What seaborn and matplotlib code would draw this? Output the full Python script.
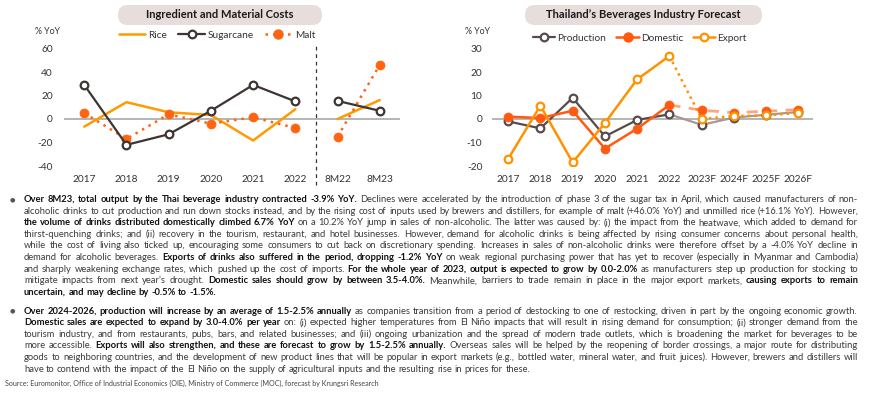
import numpy as np
import pandas as pd
import matplotlib
matplotlib.use("Agg")
import matplotlib.pyplot as plt
import seaborn as sns
from matplotlib.lines import Line2D
from matplotlib.patches import FancyBboxPatch
from matplotlib.font_manager import FontProperties
import matplotlib.transforms as mtransforms

# ---------------- data ----------------
cost_cats = ["2017", "2018", "2019", "2020", "2021", "2022", "8M22", "8M23"]
rice = [-6.5, 14.3, 5.7, 3.4, -18.3, 8.3, 0.0, 16.1]
sugarcane = [29.0, -22.0, -13.0, 7.0, 29.0, 15.0, 15.4, 7.0]
malt = [5.0, -17.0, 4.0, -4.0, 1.5, -7.7, -15.0, 46.0]

fc_cats = ["2017", "2018", "2019", "2020", "2021", "2022", "2023F", "2024F", "2025F", "2026F"]
production = [-1.0, -4.0, 9.0, -7.4, -0.4, 2.0, -2.5, 0.6, 1.8, 3.0]
domestic = [1.0, 0.4, 3.5, -12.6, -4.1, 6.0, 3.7, 2.7, 3.3, 4.0]
export = [-17.0, 5.7, -18.5, -1.7, 16.9, 26.8, 0.0, 1.3, 1.5, 2.6]

cost_title = "Ingredient and Material Costs"
fc_title = "Thailand\u2019s Beverages Industry Forecast"
y_label = "% YoY"

para1 = [
    [("Over 8M23, total output by the Thai beverage industry contracted -3.9% YoY.", True),
     (" Declines were accelerated by the introduction of phase 3 of the sugar tax in April, which caused manufacturers of non-", False)],
    [("alcoholic drinks to cut production and run down stocks instead, and by the rising cost of inputs used by brewers and distillers, for example of malt (+46.0% YoY) and unmilled rice (+16.1% YoY). However,", False)],
    [("the volume of drinks distributed domestically climbed 6.7% YoY", True),
     (" on a 10.2% YoY jump in sales of non-alcoholic. The latter was caused by: (i) the impact from the heatwave, which added to demand for", False)],
    [("thirst-quenching drinks; and (ii) recovery in the tourism, restaurant, and hotel businesses. However, demand for alcoholic drinks is being affected by rising consumer concerns about personal health,", False)],
    [("while the cost of living also ticked up, encouraging some consumers to cut back on discretionary spending. Increases in sales of non-alcoholic drinks were therefore offset by a -4.0% YoY decline in", False)],
    [("demand for alcoholic beverages.", False),
     (" Exports of drinks also suffered in the period, dropping -1.2% YoY", True),
     (" on weak regional purchasing power that has yet to recover (especially in Myanmar and Cambodia)", False)],
    [("and sharply weakening exchange rates, which pushed up the cost of imports.", False),
     (" For the whole year of 2023, output is expected to grow by 0.0-2.0%", True),
     (" as manufacturers step up production for stocking to", False)],
    [("mitigate impacts from next year\u2019s drought.", False),
     (" Domestic sales should grow by between 3.5-4.0%.", True),
     (" Meanwhile, barriers to trade remain in place in the major export markets,", False),
     (" causing exports to remain", True)],
    [("uncertain, and may decline by -0.5% to -1.5%.", True)],
]
para2 = [
    [("Over 2024-2026, production will increase by an average of 1.5-2.5% annually", True),
     (" as companies transition from a period of destocking to one of restocking, driven in part by the ongoing economic growth.", False)],
    [("Domestic sales are expected to expand by 3.0-4.0% per year", True),
     (" on: (i) expected higher temperatures from El Ni\u00f1o impacts that will result in rising demand for consumption; (ii) stronger demand from the", False)],
    [("tourism industry, and from restaurants, pubs, bars, and related businesses; and (iii) ongoing urbanization and the spread of modern trade outlets, which is broadening the market for beverages to be", False)],
    [("more accessible.", False),
     (" Exports will also strengthen, and these are forecast to grow by 1.5-2.5% annually.", True),
     (" Overseas sales will be helped by the reopening of border crossings, a major route for distributing", False)],
    [("goods to neighboring countries, and the development of new product lines that will be popular in export markets (e.g., bottled water, mineral water, and fruit juices). However, brewers and distillers will", False)],
    [("have to contend with the impact of the El Ni\u00f1o on the supply of agricultural inputs and the resulting rise in prices for these.", False)],
]
source_text = "Source: Euromonitor, Office of Industrial Economics (OIE), Ministry of Commerce (MOC), forecast by Krungsri Research"

# ---------------- style ----------------
sns.set_theme(style="white")
FAM = ["Lato", "DejaVu Sans"]
plt.rcParams["font.family"] = FAM
plt.rcParams["axes.unicode_minus"] = False

W, H = 870, 408
fig = plt.figure(figsize=(W / 100, H / 100), dpi=100)
fig.patch.set_facecolor("white")


def fx(px):
    return px / W


def fy(py):
    return 1 - py / H


ax1 = fig.add_axes([fx(64), fy(166), fx(400) - fx(64), fy(48.5) - fy(166)])
ax2 = fig.add_axes([fx(492), fy(166), fx(813) - fx(492), fy(48.5) - fy(166)])

C_RICE = "#FF9A00"
C_SUGAR = "#3F3434"
C_MALT = "#FF6410"
C_PROD = "#5A4A4A"
C_PROD_F = "#A89896"
C_DOM = "#FF5A0F"
C_DOM_F = "#FFA57E"
C_EXP = "#FF9200"
C_ZERO = "#A8A8A8"


def seg(ax, xs, ys, **kw):
    df = pd.DataFrame({"x": xs, "y": ys})
    sns.lineplot(data=df, x="x", y="y", ax=ax, errorbar=None, legend=False, **kw)


# ---------------- left chart ----------------
pos1 = np.arange(len(cost_cats))
ax1.axhline(0, color=C_ZERO, lw=1.2, zorder=1)
hist = slice(0, 6)
rec = slice(6, 8)
for s in (hist, rec):
    seg(ax1, pos1[s], rice[s], color=C_RICE, lw=1.8, zorder=3)
    seg(ax1, pos1[s], malt[s], color=C_MALT, lw=1.8, linestyle=(0, (1, 2)),
        marker="o", markersize=6.5, markerfacecolor=C_MALT, markeredgecolor=C_MALT,
        markeredgewidth=0.5, zorder=4)
    seg(ax1, pos1[s], sugarcane[s], color=C_SUGAR, lw=1.6,
        marker="o", markersize=5.5, markerfacecolor="white", markeredgecolor=C_SUGAR,
        markeredgewidth=1.6, zorder=5)

ax1.set_xlim(-0.48, 7.48)
ax1.set_ylim(-40, 60)
ax1.set_yticks([-40, -20, 0, 20, 40, 60])
ax1.set_xticks(pos1)
ax1.set_xticklabels(cost_cats)
ax1.tick_params(axis="x", length=0, pad=6.5, labelsize=7.3, colors="#333333")
ax1.tick_params(axis="y", length=0, pad=8, labelsize=7.3, colors="#333333")
trans1 = mtransforms.blended_transform_factory(ax1.transData, ax1.transAxes)
ax1.add_line(Line2D([5.5, 5.5], [-0.16, 1.03], transform=trans1, color="#333333",
                    lw=0.9, linestyle=(0, (3, 3)), clip_on=False))

# ---------------- right chart ----------------
pos2 = np.arange(len(fc_cats))
ax2.axhline(0, color=C_ZERO, lw=1.2, zorder=1)
h2 = slice(0, 6)
f2 = slice(5, 10)
seg(ax2, pos2[f2], production[f2], color=C_PROD_F, lw=1.6, zorder=2)
seg(ax2, pos2[f2], domestic[f2], color=C_DOM_F, lw=2.0, linestyle=(0, (4, 3)), zorder=2)
seg(ax2, pos2[f2], export[f2], color=C_EXP, lw=1.8, linestyle=(0, (1, 1.6)), zorder=2)
seg(ax2, pos2[h2], production[h2], color=C_PROD, lw=1.6, zorder=3)
seg(ax2, pos2[h2], domestic[h2], color=C_DOM, lw=1.8, zorder=3)
seg(ax2, pos2[h2], export[h2], color=C_EXP, lw=1.8, zorder=3)
mk = dict(linestyle="none", marker="o", markersize=5.5, markeredgewidth=1.6, zorder=5)
seg(ax2, pos2, production, color=C_PROD, markerfacecolor="white", markeredgecolor=C_PROD, **mk)
seg(ax2, pos2, domestic, color=C_DOM, markerfacecolor=C_DOM, markeredgecolor=C_DOM,
    linestyle="none", marker="o", markersize=6.5, markeredgewidth=0.5, zorder=5)
seg(ax2, pos2, export, color=C_EXP, markerfacecolor="white", markeredgecolor=C_EXP, **mk)

ax2.set_xlim(-0.5, 9.45)
ax2.set_ylim(-20, 30)
ax2.set_yticks([-20, -10, 0, 10, 20, 30])
ax2.set_xticks(pos2)
ax2.set_xticklabels(fc_cats)
ax2.tick_params(axis="x", length=0, pad=6.5, labelsize=7.3, colors="#333333")
ax2.tick_params(axis="y", length=0, pad=7, labelsize=7.3, colors="#333333")

for ax in (ax1, ax2):
    sns.despine(ax=ax, left=True, bottom=True)
    ax.set_xlabel("")
    ax.set_ylabel("")
    ax.grid(False)
    ax.set_facecolor("none")

fig.text(fx(48), fy(32), y_label, ha="center", va="center", fontsize=6.3, color="#333333")
fig.text(fx(478), fy(32), y_label, ha="center", va="center", fontsize=6.3, color="#333333")

# title pills
PILL = "#E7DDDB"
for (x0, x1, t) in [(118, 322, cost_title), (525, 762, fc_title)]:
    p = FancyBboxPatch((fx(x0), fy(25)), fx(x1 - x0), fy(5) - fy(25),
                       boxstyle="round,pad=0,rounding_size=0.0112", transform=fig.transFigure,
                       facecolor=PILL, edgecolor="none", mutation_aspect=W / H)
    fig.patches.append(p)
    fig.text(fx((x0 + x1) / 2), fy(15), t, ha="center", va="center", fontsize=8,
             fontweight="bold", color="#1A1A1A")

# legends
lh1 = [Line2D([], [], color=C_RICE, lw=1.8),
       Line2D([], [], color=C_SUGAR, lw=1.6, marker="o", markersize=5.5,
              markerfacecolor="white", markeredgewidth=1.6),
       Line2D([], [], color=C_MALT, lw=1.8, linestyle=(0, (1, 2)), marker="o",
              markersize=6.5, markerfacecolor=C_MALT, markeredgecolor=C_MALT)]
fig.legend(lh1, ["Rice", "Sugarcane", "Malt"], loc="center", bbox_to_anchor=(fx(217), fy(35)),
           ncol=3, frameon=False, fontsize=7.3, handlelength=2.6, handletextpad=0.3,
           columnspacing=1.1, labelcolor="#333333")
lh2 = [Line2D([], [], color=C_PROD, lw=1.6, marker="o", markersize=5.5,
              markerfacecolor="white", markeredgewidth=1.6),
       Line2D([], [], color=C_DOM, lw=1.8, marker="o", markersize=6.5,
              markerfacecolor=C_DOM, markeredgecolor=C_DOM),
       Line2D([], [], color=C_EXP, lw=1.8, marker="o", markersize=5.5,
              markerfacecolor="white", markeredgewidth=1.6)]
fig.legend(lh2, ["Production", "Domestic", "Export"], loc="center", bbox_to_anchor=(fx(640), fy(38)),
           ncol=3, frameon=False, fontsize=7.3, handlelength=2.2, handletextpad=0.2,
           columnspacing=1.0, labelcolor="#333333")

# ---------------- body text (justified) ----------------
renderer = fig.canvas.get_renderer()
BODY_FAM = ["Liberation Sans Narrow", "Lato", "DejaVu Sans"]


def tw(s, bold, size):
    fp = FontProperties(family=BODY_FAM, size=size, weight="bold" if bold else "normal")
    w, h, d = renderer.get_text_width_height_descent(s, fp, ismath=False)
    return w


def tokens(line):
    out = []
    for text, b in line:
        for w in text.split():
            out.append((w, b))
    return out


X0, X1 = 24, 858
TARGET = X1 - X0
all_lines = [l for l in para1[:-1]] + [l for l in para2[:-1]]
ref = 10.0
maxw = 0
for line in all_lines:
    tk = tokens(line)
    nat = sum(tw(w, b, ref) for w, b in tk) + (len(tk) - 1) * tw(" ", False, ref) * 0.9
    maxw = max(maxw, nat)
BODY_SIZE = min(7.8, ref * TARGET / maxw * 0.995)


def draw_para(lines, y_start, step):
    space = tw("x x", False, BODY_SIZE) - tw("xx", False, BODY_SIZE)
    for i, line in enumerate(lines):
        tk = tokens(line)
        widths = [tw(w, b, BODY_SIZE) for w, b in tk]
        last = (i == len(lines) - 1)
        if last or len(tk) < 2:
            gap = space
        else:
            gap = (TARGET - sum(widths)) / (len(tk) - 1)
        x = X0
        yb = y_start + i * step + 3
        for (w, b), wd in zip(tk, widths):
            fig.text(fx(x), fy(yb), w, ha="left", va="baseline", fontsize=BODY_SIZE,
                     family=BODY_FAM, fontweight="bold" if b else "normal",
                     color="#111111" if b else "#3A3A3A")
            x += wd + gap
    fig.text(fx(12), fy(y_start + 0.5), "\u25CF", ha="center", va="center", fontsize=4.5,
             color="#555555", family=["DejaVu Sans"])


draw_para(para1, 199, 11.6)
draw_para(para2, 310.5, 11.65)

src_w = tw(source_text, False, 10)
fig.text(fx(5), fy(383), source_text, ha="left", va="center", fontsize=10 * 375 / src_w,
         family=BODY_FAM, color="#444444")

fig.savefig("out.png", dpi=100, facecolor="white")
